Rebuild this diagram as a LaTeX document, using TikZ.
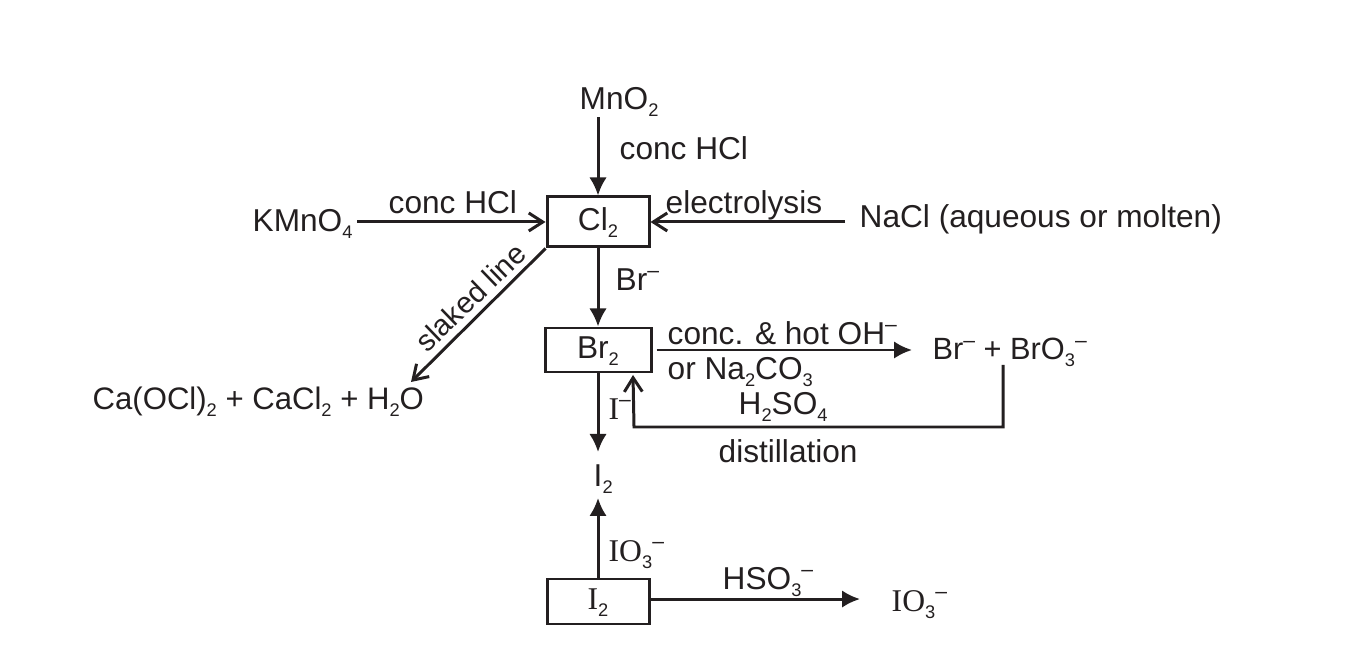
\documentclass[tikz,border=0pt]{standalone}
\usepackage{fontspec}
\setmainfont{Liberation Sans}
\newfontfamily\serifI{Liberation Serif}
\usetikzlibrary{arrows.meta}
\definecolor{inkdark}{HTML}{231F20}
\newcommand{\subn}[1]{\raisebox{-0.42ex}{\fontsize{5.2}{6}\selectfont\sffamily\setmainfont{Liberation Sans}#1}}
\newcommand{\ionm}{\raisebox{0.78ex}{\fontsize{6}{6}\selectfont\textendash}}
\tikzset{
    label/.style={anchor=base west, inner sep=0pt, yshift=-0.5pt, font=\fontsize{9}{10.8}\selectfont, text=inkdark},
    boxnode/.style={draw=inkdark, line width=0.85pt, inner sep=0pt, align=center, text height=6.5pt, text depth=1.9pt, font=\fontsize{9}{10.8}\selectfont, text=inkdark},
    solidline/.style={draw=inkdark, line width=0.85pt, -{Latex[length=1.8mm,width=1.75mm]}},
    openline/.style={draw=inkdark, line width=0.85pt, -{Straight Barb[length=1.4mm,width=1.8mm]}}
}
\begin{document}
\begin{tikzpicture}
    \useasboundingbox (0,0) rectangle (13.66,6.7);

    % Cajas
    \node[boxnode, minimum width=1.02cm, minimum height=0.5cm] (clbox) at (5.98,4.48) {Cl\subn{2}};
    \node[boxnode, minimum width=1.06cm, minimum height=0.44cm] (brbox) at (5.98,3.2) {Br\subn{2}};
    \node[boxnode, minimum width=1.02cm, minimum height=0.45cm] (ibox) at (5.98,0.685) {{\serifI I}\subn{2}};

    % Reactivos y productos
    \node[label] (mno) at (5.79,5.62) {MnO\subn{2}};
    \node[label] (kmno) at (2.52,4.4) {KMnO\subn{4}};
    \node[label] (nacl) at (8.59,4.44) {NaCl (aqueous or molten)};
    \node[label, font=\fontsize{8.85}{10.6}\selectfont] (caprod) at (0.92,2.62) {Ca(OCl)\subn{2} + CaCl\subn{2} + H\subn{2}O};
    \node[label, font=\fontsize{8.75}{10.5}\selectfont] (bro) at (9.32,3.12) {Br\ionm{} + BrO\subn{3}\ionm};
    \node[label] (itop) at (5.93,1.85) {I\subn{2}};
    \node[label] (ioright) at (8.91,0.6) {{\serifI IO}\subn{3}\ionm};

    % Condiciones
    \node[label] (hclright) at (6.19,5.125) {conc HCl};
    \node[label] (hclleft) at (3.88,4.58) {conc HCl};
    \node[label] (elec) at (6.65,4.58) {electrolysis};
    \node[label, rotate=44, font=\fontsize{8.4}{10}\selectfont] (slaked) at (4.27,3.18) {slaked line};
    \node[label] (brion) at (6.15,3.81) {Br\ionm};
    \node[label] (hot) at (6.67,3.27) {conc. \& hot OH\ionm};
    \node[label] (naco) at (6.67,2.92) {or Na\subn{2}CO\subn{3}};
    \node[label] (hso) at (7.38,2.57) {H\subn{2}SO\subn{4}};
    \node[label] (dist) at (7.18,2.09) {distillation};
    \node[label] (iion) at (6.08,2.52) {{\serifI I}\ionm};
    \node[label] (ioup) at (6.08,1.1) {{\serifI IO}\subn{3}\ionm};
    \node[label] (hsoright) at (7.22,0.82) {HSO\subn{3}\ionm};

    % Extremos libres
    \coordinate (caend) at (4.11,2.88);
    \coordinate (ihigh) at (5.98,2.18);
    \coordinate (ilow) at (5.98,1.72);
    \coordinate (brout) at (10.03,3.05);
    \coordinate (brcorner) at (10.03,2.43);
    \coordinate (brturn) at (6.34,2.43);
    \coordinate (brin) at (6.33,2.95);

    % Flechas
    \draw[solidline] (mno.south -| clbox.north) -- (clbox.north);
    \draw[openline, shorten <=0.04cm] (kmno.east |- clbox.west) -- (clbox.west);
    \draw[openline, shorten <=0.14cm] (nacl.west |- clbox.east) -- (clbox.east);
    \draw[openline] (clbox.south west) -- (caend);
    \draw[solidline] (clbox.south) -- (brbox.north);
    \draw[solidline, shorten <=0.04cm, shorten >=0.2cm] (brbox.east) -- (bro.west |- brbox.east);
    \draw[solidline] (brbox.south) -- (ihigh);
    \draw[openline] (brout) -- (brcorner) -- (brturn) -- (brin);
    \draw[solidline] (ibox.north) -- (ilow);
    \draw[solidline, shorten >=0.31cm] ([yshift=0.7pt]ibox.east) -- ([yshift=0.7pt]ioright.west |- ibox.east);
\end{tikzpicture}
\end{document}
